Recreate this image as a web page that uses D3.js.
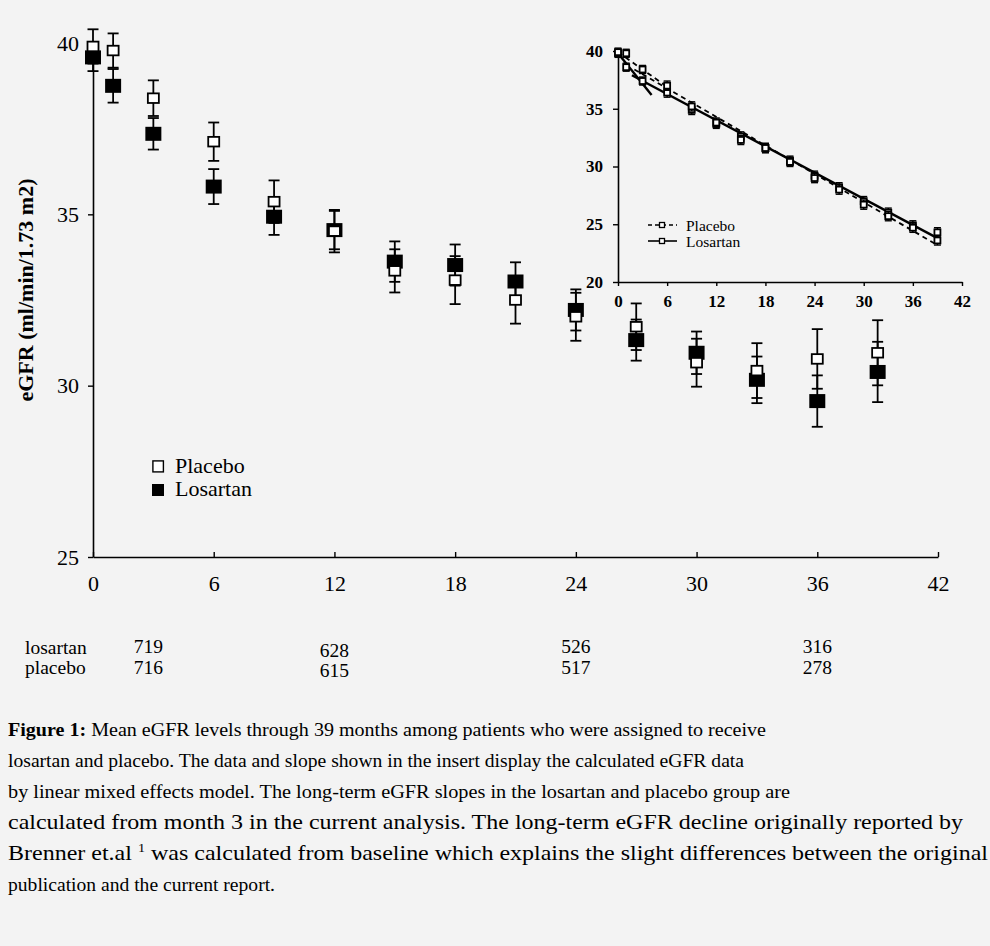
<!DOCTYPE html>
<html>
<head>
<meta charset="utf-8">
<script src="https://cdn.jsdelivr.net/npm/d3@7"></script>
<style>
  html, body { margin: 0; padding: 0; background: #f3f3f3; }
  svg { display: block; }
  text { font-family: "Liberation Serif", "Times New Roman", serif; fill: #000; }
</style>
</head>
<body>
<svg id="fig" width="990" height="946"></svg>
<script>
// Visit months (both panels)
const months = [0, 1, 3, 6, 9, 12, 15, 18, 21, 24, 27, 30, 33, 36, 39];

// Observed mean eGFR and SE (main panel)
const placeboMean = [39.90, 39.78, 38.39, 37.12, 35.37, 34.51, 33.35, 33.08, 32.50, 32.01, 31.72, 30.67, 30.44, 30.78, 30.96];
const placeboSE   = [0.50, 0.50, 0.52, 0.56, 0.62, 0.62, 0.63, 0.70, 0.69, 0.70, 0.68, 0.70, 0.80, 0.87, 0.95];
const losartanMean = [39.58, 38.75, 37.35, 35.81, 34.93, 34.54, 33.62, 33.52, 33.04, 32.21, 31.33, 30.96, 30.17, 29.55, 30.40];
const losartanSE   = [0.40, 0.49, 0.46, 0.51, 0.53, 0.56, 0.59, 0.60, 0.56, 0.60, 0.60, 0.62, 0.68, 0.75, 0.88];

// Mixed-model estimates (insert)
const placeboModel  = [39.9, 39.8, 38.4, 37.0, 35.2, 33.8, 32.3, 31.6, 30.4, 29.0, 28.0, 26.7, 25.7, 24.7, 23.6];
const losartanModel = [39.8, 38.6, 37.4, 36.4, 34.9, 33.7, 32.6, 31.6, 30.5, 29.2, 28.2, 27.0, 26.0, 24.9, 24.3];
const modelSE = [0.35, 0.35, 0.35, 0.4, 0.4, 0.4, 0.4, 0.4, 0.4, 0.4, 0.4, 0.4, 0.4, 0.4, 0.4];

// Fitted slopes in the insert: early and long-term segments
const placeboEarly  = [[0, 39.9], [6, 36.9]];
const placeboLong   = [[2, 38.4], [39, 23.2]];
const losartanEarly = [[0, 39.8], [4.1, 36.2]];
const losartanLong  = [[1.7, 37.9], [39, 23.8]];

// Axis ticks
const xTicks = [0, 6, 12, 18, 24, 30, 36, 42];
const yTicksMain = [25, 30, 35, 40];
const yTicksInset = [20, 25, 30, 35, 40];

// Patients at risk
const atRiskMonths = [3, 12, 24, 36];
const atRiskLosartan = [719, 628, 526, 316];
const atRiskPlacebo  = [716, 615, 517, 278];

// Caption: [text, bold, superscript]
const captionLines = [
  [["Figure 1:", true], [" Mean eGFR levels through 39 months among patients who were assigned to receive", false]],
  [["losartan and placebo. The data and slope shown in the insert display the calculated eGFR data", false]],
  [["by linear mixed effects model. The long-term eGFR slopes in the losartan and placebo group are", false]],
  [["calculated from month 3 in the current analysis. The long-term eGFR decline originally reported by", false]],
  [["Brenner et.al ", false], ["1", false, true], [" was calculated from baseline which explains the slight differences between the original", false]],
  [["publication and the current report.", false]]
];

const svg = d3.select("#fig");

// ---------- main panel ----------
const x = d3.scaleLinear().domain([0, 42]).range([93, 938]);
const y = d3.scaleLinear().domain([25, 40]).range([557, 43]);

const gx = svg.append("g").attr("transform", `translate(0,${y(25)})`)
  .call(d3.axisBottom(x).tickValues(xTicks).tickSizeInner(-5).tickSizeOuter(0).tickPadding(18));
const gy = svg.append("g").attr("transform", `translate(${x(0)},0)`)
  .call(d3.axisLeft(y).tickValues(yTicksMain).tickSizeInner(5).tickSizeOuter(0).tickPadding(9));
[gx, gy].forEach(g => {
  g.select(".domain").attr("stroke", "#000").attr("stroke-width", 1.6);
  g.selectAll(".tick line").attr("stroke", "#000").attr("stroke-width", 1.4);
  g.selectAll(".tick text").attr("font-size", 22).attr("font-family", "Liberation Serif");
});

svg.append("text")
  .attr("transform", "translate(33,290) rotate(-90)")
  .attr("text-anchor", "middle")
  .attr("font-size", 22).attr("font-weight", "bold")
  .text("eGFR (ml/min/1.73 m2)");

function drawSeries(mean, se, filled) {
  const g = svg.append("g");
  const rows = months.map((m, i) => ({ m, v: mean[i], e: se[i] }));
  const cap = 5.5;
  g.selectAll("line.bar").data(rows).join("line")
    .attr("x1", d => x(d.m)).attr("x2", d => x(d.m))
    .attr("y1", d => y(d.v + d.e)).attr("y2", d => y(d.v - d.e))
    .attr("stroke", "#000").attr("stroke-width", 1.8);
  [1, -1].forEach(s => {
    g.append("g").selectAll("line").data(rows).join("line")
      .attr("x1", d => x(d.m) - cap).attr("x2", d => x(d.m) + cap)
      .attr("y1", d => y(d.v + s * d.e)).attr("y2", d => y(d.v + s * d.e))
      .attr("stroke", "#000").attr("stroke-width", 1.8);
  });
  if (filled) {
    g.append("g").selectAll("rect").data(rows).join("rect")
      .attr("x", d => x(d.m) - 8).attr("y", d => y(d.v) - 7)
      .attr("width", 16).attr("height", 14).attr("fill", "#000");
  } else {
    g.append("g").selectAll("rect").data(rows).join("rect")
      .attr("x", d => x(d.m) - 5.5).attr("y", d => y(d.v) - 4.8)
      .attr("width", 11).attr("height", 9.6)
      .attr("fill", "#fff").attr("stroke", "#000").attr("stroke-width", 1.8);
  }
}
drawSeries(losartanMean, losartanSE, true);
drawSeries(placeboMean, placeboSE, false);

// main legend
const leg = svg.append("g").attr("transform", "translate(152,460)");
leg.append("rect").attr("x", 0.9).attr("y", 0.9).attr("width", 10.5).attr("height", 11)
  .attr("fill", "#fff").attr("stroke", "#000").attr("stroke-width", 1.4);
leg.append("text").attr("x", 23).attr("y", 13).attr("font-size", 22).text("Placebo");
leg.append("rect").attr("x", 0).attr("y", 24).attr("width", 12).attr("height", 12).attr("fill", "#000");
leg.append("text").attr("x", 23).attr("y", 36).attr("font-size", 22).text("Losartan");

// ---------- insert ----------
const xi = d3.scaleLinear().domain([0, 42]).range([618, 962]);
const yi = d3.scaleLinear().domain([20, 40]).range([282, 51]);

const gxi = svg.append("g").attr("transform", `translate(0,${yi(20)})`)
  .call(d3.axisBottom(xi).tickValues(xTicks).tickSizeInner(4).tickSizeOuter(0).tickPadding(9));
const gyi = svg.append("g").attr("transform", `translate(${xi(0)},0)`)
  .call(d3.axisLeft(yi).tickValues(yTicksInset).tickSizeInner(5).tickSizeOuter(0).tickPadding(10));
[gxi, gyi].forEach(g => {
  g.select(".domain").attr("stroke", "#000").attr("stroke-width", 1.6);
  g.selectAll(".tick line").attr("stroke", "#000").attr("stroke-width", 1.4);
  g.selectAll(".tick text").attr("font-size", 17).attr("font-weight", "bold")
    .attr("font-family", "Liberation Serif");
});

const lineGen = d3.line().x(d => xi(d[0])).y(d => yi(d[1]));
const dash = "5,4";
[placeboEarly, placeboLong].forEach(seg => {
  svg.append("path").attr("d", lineGen(seg)).attr("fill", "none")
    .attr("stroke", "#000").attr("stroke-width", 1.8).attr("stroke-dasharray", dash);
});
[losartanEarly, losartanLong].forEach(seg => {
  svg.append("path").attr("d", lineGen(seg)).attr("fill", "none")
    .attr("stroke", "#000").attr("stroke-width", 2.4);
});

function drawInsetSeries(vals) {
  const g = svg.append("g");
  const rows = months.map((m, i) => ({ m, v: vals[i], e: modelSE[i] }));
  g.selectAll("line.bar").data(rows).join("line")
    .attr("x1", d => xi(d.m)).attr("x2", d => xi(d.m))
    .attr("y1", d => yi(d.v + d.e)).attr("y2", d => yi(d.v - d.e))
    .attr("stroke", "#000").attr("stroke-width", 1.4);
  [1, -1].forEach(s => {
    g.append("g").selectAll("line").data(rows).join("line")
      .attr("x1", d => xi(d.m) - 3.5).attr("x2", d => xi(d.m) + 3.5)
      .attr("y1", d => yi(d.v + s * d.e)).attr("y2", d => yi(d.v + s * d.e))
      .attr("stroke", "#000").attr("stroke-width", 1.4);
  });
  g.append("g").selectAll("rect").data(rows).join("rect")
    .attr("x", d => xi(d.m) - 3).attr("y", d => yi(d.v) - 3)
    .attr("width", 6).attr("height", 6)
    .attr("fill", "#fff").attr("stroke", "#000").attr("stroke-width", 1.8);
}
drawInsetSeries(losartanModel);
drawInsetSeries(placeboModel);

// insert legend
const li = svg.append("g").attr("transform", "translate(648,225)");
li.append("line").attr("x1", 0).attr("x2", 29).attr("y1", 0).attr("y2", 0)
  .attr("stroke", "#000").attr("stroke-width", 1.4).attr("stroke-dasharray", "4,3");
li.append("rect").attr("x", 11.5).attr("y", -2.5).attr("width", 5).attr("height", 5)
  .attr("fill", "#fff").attr("stroke", "#000").attr("stroke-width", 1.3);
li.append("text").attr("x", 38).attr("y", 5.5).attr("font-size", 15.5).text("Placebo");
li.append("line").attr("x1", 0).attr("x2", 29).attr("y1", 16).attr("y2", 16)
  .attr("stroke", "#000").attr("stroke-width", 1.6);
li.append("rect").attr("x", 11.5).attr("y", 13.5).attr("width", 5).attr("height", 5)
  .attr("fill", "#fff").attr("stroke", "#000").attr("stroke-width", 1.3);
li.append("text").attr("x", 38).attr("y", 22).attr("font-size", 15.5).text("Losartan");

// ---------- patients at risk ----------
svg.append("text").attr("x", 25).attr("y", 654).attr("font-size", 19.5).text("losartan");
svg.append("text").attr("x", 25).attr("y", 674).attr("font-size", 19.5).text("placebo");
svg.append("g").selectAll("text").data(atRiskMonths).join("text")
  .attr("x", d => x(d) - (d === 3 ? 5 : 0)).attr("y", d => d === 12 ? 657 : 653)
  .attr("text-anchor", "middle").attr("font-size", 19.5)
  .text((d, i) => atRiskLosartan[i]);
svg.append("g").selectAll("text").data(atRiskMonths).join("text")
  .attr("x", d => x(d) - (d === 3 ? 5 : 0)).attr("y", d => d === 12 ? 677 : 674)
  .attr("text-anchor", "middle").attr("font-size", 19.5)
  .text((d, i) => atRiskPlacebo[i]);

// ---------- caption ----------
// each caption line is set to its own width; the last two full lines run wider
const captionWidths = [758, 736, 782, 955, 980, 267];
const captionSizes  = [19.5, 19.5, 19.5, 22, 22, 19.5];
captionLines.forEach((parts, li) => {
  const t = svg.append("text").attr("x", 8).attr("y", 736 + li * 31)
    .attr("font-size", captionSizes[li])
    .attr("textLength", captionWidths[li]).attr("lengthAdjust", "spacingAndGlyphs");
  let raised = false;
  parts.forEach(([s, bold, sup]) => {
    const ts = t.append("tspan").text(s);
    if (bold) ts.attr("font-weight", "bold");
    if (sup) { ts.attr("font-size", 13).attr("dy", -8); raised = true; }
    else if (raised) { ts.attr("dy", 8); raised = false; }
  });
});
</script>
</body>
</html>
